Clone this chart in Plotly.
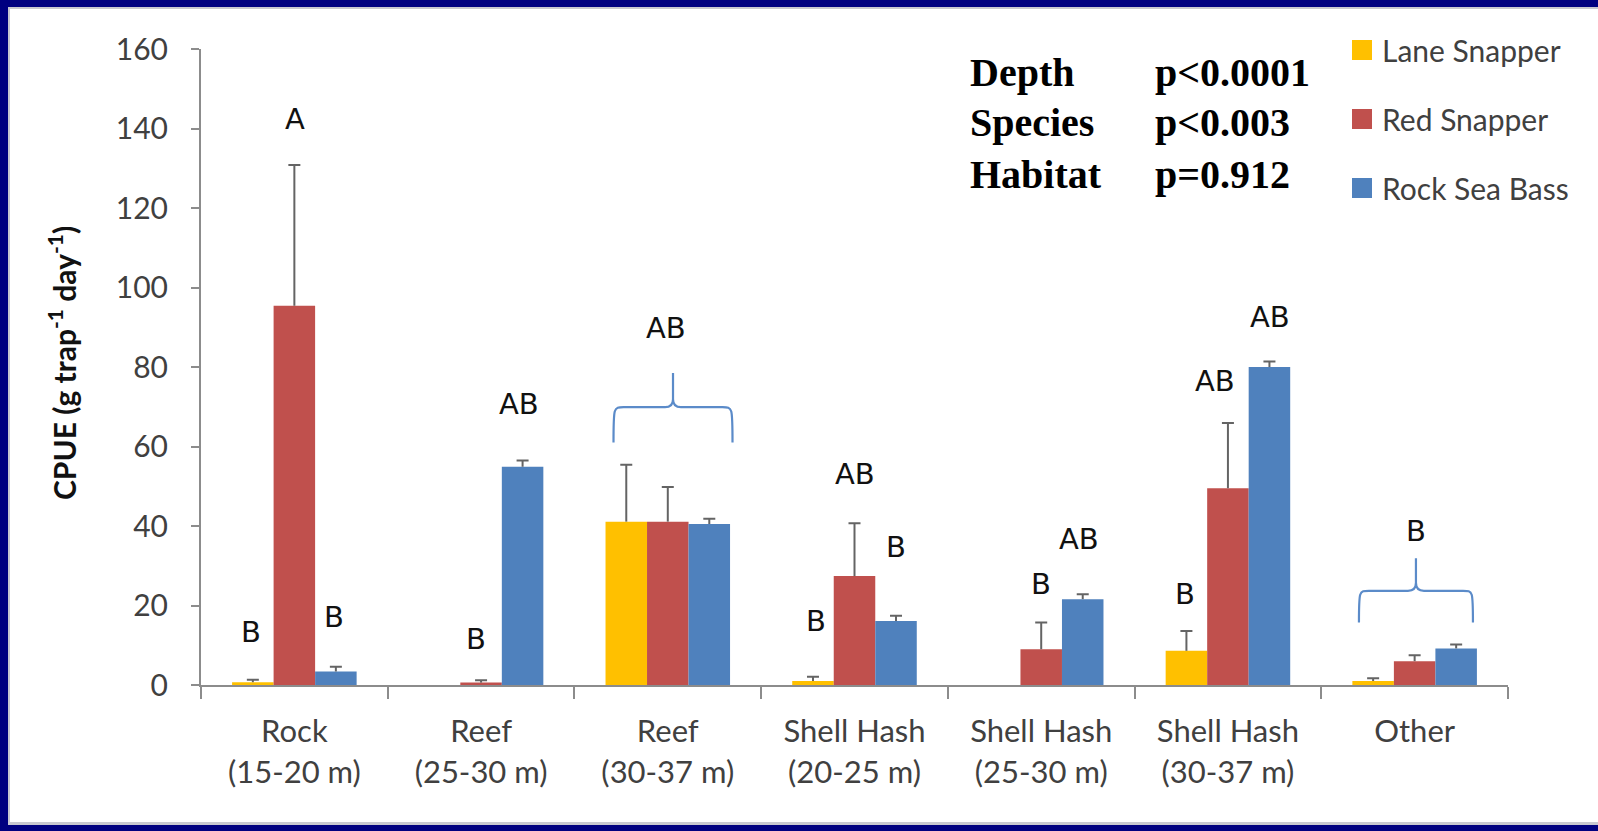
import plotly.graph_objects as go

# ---- data -------------------------------------------------------------
habitats = ["Rock", "Reef", "Reef", "Shell Hash", "Shell Hash", "Shell Hash", "Other"]
depths = ["(15-20 m)", "(25-30 m)", "(30-37 m)", "(20-25 m)", "(25-30 m)", "(30-37 m)", ""]
species = ["Lane Snapper", "Red Snapper", "Rock Sea Bass"]

lane_mean = [0.7, None, 41.1, 1.0, None, 8.6, 1.0]
lane_se = [0.6, None, 14.3, 1.1, None, 5.0, 0.7]
red_mean = [95.4, 0.6, 41.1, 27.4, 9.0, 49.5, 6.0]
red_se = [35.4, 0.6, 8.7, 13.3, 6.7, 16.4, 1.5]
bass_mean = [3.4, 54.9, 40.5, 16.1, 21.6, 80.0, 9.2]
bass_se = [1.2, 1.6, 1.3, 1.3, 1.2, 1.4, 1.0]

# Tukey grouping letters and the habitat they belong to
letters = ["B", "A", "B", "B", "AB", "AB", "B", "AB", "B", "B", "AB", "B", "AB", "AB", "B"]
letter_cat = [0, 0, 0, 1, 1, 2, 3, 3, 3, 4, 4, 5, 5, 5, 6]

stats_terms = ["Depth", "Species", "Habitat"]
stats_p = ["p<0.0001", "p<0.003", "p=0.912"]

y_ticks = [0, 20, 40, 60, 80, 100, 120, 140, 160]

# ---- style ------------------------------------------------------------
colors = ["#FFC000", "#C0504D", "#4F81BD"]
NAVY = "#000080"
W, H = 1598, 831
ML, MR, MT, MB = 201, 90, 49, 146
PW, PH = W - ML - MR, H - MT - MB
Y_MAX = 160
px_x = 1.0 / (PW / len(habitats))   # category units per pixel
px_y = Y_MAX / PH                   # data units per pixel

categories = [f"{h}<br>{d}" if d else h for h, d in zip(habitats, depths)]

fig = go.Figure()
for name, mean, se, col in zip(species, [lane_mean, red_mean, bass_mean],
                               [lane_se, red_se, bass_se], colors):
    # bars with the upper error stem
    fig.add_trace(go.Bar(
        x=categories, y=mean, name=name, marker_color=col, offsetgroup=name,
        marker_line_width=0, showlegend=False,
        error_y=dict(type="data", symmetric=False, array=se,
                     arrayminus=[0 if v is not None else None for v in se],
                     color="#646464", thickness=2, width=0),
    ))
    # cap of the error bar at mean + se (transparent bar in the same slot)
    tops = [m + s if m is not None else None for m, s in zip(mean, se)]
    fig.add_trace(go.Bar(
        x=categories, y=tops, name=name, offsetgroup=name, showlegend=False,
        marker=dict(color="rgba(0,0,0,0)", line_width=0), hoverinfo="skip",
        error_y=dict(type="data", array=[0] * len(tops), color="#646464",
                     thickness=2, width=6),
    ))
    # legend swatch
    fig.add_trace(go.Scatter(
        x=[None], y=[None], mode="markers", name=name, legendgroup=name,
        marker=dict(symbol="square", size=16, color=col,
                    line=dict(color=col, width=4)),
    ))

# letter placement (x offset in px from the habitat centre, y in data units)
letter_dx = [-43, 1, 40, -5, 38, -2, -39, 0, 41, 0, 38, -43, -13, 42, 1]
letter_y = [13.3, 142.5, 17.0, 11.6, 70.6, 89.9, 16.0, 53.1, 34.7, 25.4, 36.7,
            22.9, 76.5, 92.6, 38.8]
for t, ci, dx, yy in zip(letters, letter_cat, letter_dx, letter_y):
    fig.add_annotation(x=categories[ci], y=yy, xref="x", yref="y", text=t,
                       showarrow=False, xshift=dx,
                       font=dict(family="DejaVu Sans", size=29, color="#111111"))


def brace(cx, half_px, y0, y1, y2):
    """Curly brace opening downward; cx in category units, y in data units."""
    h = half_px * px_x
    r = 10 * px_x
    r2 = 8 * px_x
    v2 = 8 * px_y
    x0, x1 = cx - h, cx + h
    return (f"M{x0},{y0} C{x0},{y1} {x0},{y1} {x0 + r},{y1} "
            f"L{cx - r2},{y1} Q{cx},{y1} {cx},{y1 + v2} L{cx},{y2} "
            f"L{cx},{y1 + v2} Q{cx},{y1} {cx + r2},{y1} "
            f"L{x1 - r},{y1} C{x1},{y1} {x1},{y1} {x1},{y0}")


for cx, half, y0, y1, y2 in [(2.028, 59.5, 61.0, 69.9, 78.5),
                             (6.007, 57.0, 15.7, 23.7, 31.9)]:
    fig.add_shape(type="path", xref="x", yref="y", path=brace(cx, half, y0, y1, y2),
                  line=dict(color="#5B8BC9", width=2.2))

# statistics block
stat_rows_px = [72.0, 123.0, 174.5]
for term, p, py in zip(stats_terms, stats_p, stat_rows_px):
    fy = (H - MB - py) / PH
    for txt, px in [(term, 968), (p, 1153)]:
        fig.add_annotation(x=(px - ML) / PW, y=fy, xref="paper", yref="paper",
                           text=f"<b>{txt}</b>", showarrow=False,
                           xanchor="left", yanchor="middle",
                           font=dict(family="Liberation Serif", size=40, color="#000000"))

# y-axis title
fig.add_annotation(x=(62 - ML) / PW, y=(H - MB - 363) / PH, xref="paper", yref="paper",
                   text="<b>CPUE (g trap<sup>-1</sup> day<sup>-1</sup>)</b>",
                   textangle=-90, showarrow=False, xanchor="center", yanchor="middle",
                   font=dict(family="Lato", size=30, color="#111111"))


# navy frame on top, left and bottom edges; the right side stays open
def px_rect(x0, y0, x1, y1, layer="below", **kw):
    fig.add_shape(type="rect", xref="paper", yref="paper", layer=layer,
                  x0=(x0 - ML) / PW, x1=(x1 - ML) / PW,
                  y0=(H - MB - y1) / PH, y1=(H - MB - y0) / PH, **kw)


px_rect(0, 0, W, 7, fillcolor=NAVY, line_width=0)
px_rect(0, 0, 8, H, fillcolor=NAVY, line_width=0)
px_rect(0, 825, W, H, fillcolor=NAVY, line_width=0)
px_rect(8, 7, W, 9, fillcolor="#c8c8d0", line_width=0)
px_rect(8, 7, 10, 825, fillcolor="#c8c8d0", line_width=0)
px_rect(8, 822, W, 825, fillcolor="#c8c8d0", line_width=0)
px_rect(W - 30, 9, W + 30, 822, layer="above", fillcolor="white", line_width=0)

fig.update_layout(
    width=W, height=H,
    margin=dict(l=ML, r=MR, t=MT, b=MB),
    paper_bgcolor="white", plot_bgcolor="rgba(0,0,0,0)",
    barmode="group", bargap=0.333, bargroupgap=0,
    font=dict(family="Lato", color="#404040"),
    legend=dict(x=(1342 - ML) / PW, y=(H - MB - 24) / PH, xanchor="left", yanchor="top",
                bgcolor="rgba(0,0,0,0)", tracegroupgap=27,
                font=dict(family="Lato", size=30, color="#404040")),
    xaxis=dict(categoryorder="array", categoryarray=categories,
               showline=True, linecolor="#8c8c8c", linewidth=2,
               ticks="outside", tickson="boundaries", ticklen=12, tickcolor="#8c8c8c",
               tickwidth=1.5, showgrid=False, zeroline=False, ticklabelstandoff=18,
               tickfont=dict(family="Lato", size=31, color="#404040")),
    yaxis=dict(range=[0, Y_MAX], tickvals=y_ticks, showline=True, linecolor="#8c8c8c",
               linewidth=2, ticks="outside", ticklen=8, tickcolor="#8c8c8c",
               tickwidth=1.5, showgrid=False, zeroline=False, ticklabelstandoff=17,
               tickfont=dict(family="Lato", size=30, color="#404040")),
)

fig.write_html("out.html")
